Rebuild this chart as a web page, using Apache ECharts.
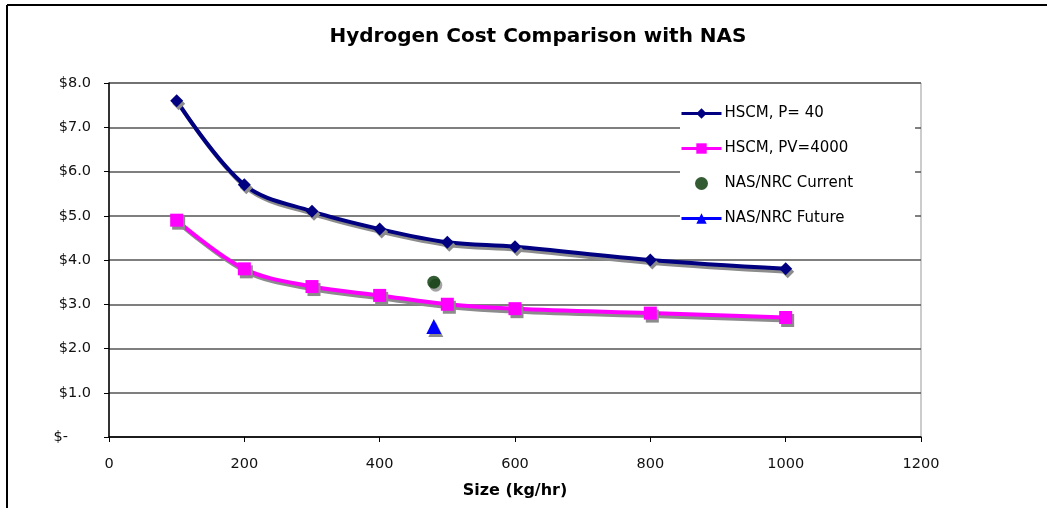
<!DOCTYPE html>
<html>
<head>
<meta charset="utf-8">
<script src="https://cdn.jsdelivr.net/npm/echarts@6/dist/echarts.min.js"></script>
<style>
  html, body { margin: 0; padding: 0; background: #fff; }
  #chart { width: 1047px; height: 508px; }
</style>
</head>
<body>
<div id="chart"></div>
<script>
// data
var sizes = [100, 200, 300, 400, 500, 600, 800, 1000];
var hscmP40 = [7.6, 5.7, 5.1, 4.7, 4.4, 4.3, 4.0, 3.8];
var hscmPV4000 = [4.9, 3.8, 3.4, 3.2, 3.0, 2.9, 2.8, 2.7];
var nasCurrent = [[480, 3.5]];
var nasFuture = [[480, 2.5]];
var seriesNames = ['HSCM, P= 40', 'HSCM, PV=4000', 'NAS/NRC Current', 'NAS/NRC Future'];

function pairs(xs, ys) {
  return xs.map(function (x, i) { return [x, ys[i]]; });
}

var font = 'DejaVu Sans, Verdana, sans-serif';
var shadow = { shadowColor: '#8c8c8c', shadowOffsetX: 2, shadowOffsetY: 3, shadowBlur: 0 };

var mychart = echarts.init(document.getElementById('chart'));
mychart.setOption({
  animation: false,
  textStyle: { fontFamily: font },
  title: {
    text: 'Hydrogen Cost Comparison with NAS',
    left: 533,
    textAlign: 'center',
    top: 22,
    textStyle: { fontFamily: font, fontSize: 20, fontWeight: 'bold', color: '#000' }
  },
  graphic: [
    { type: 'line', shape: { x1: 7, y1: 5, x2: 1047, y2: 5 }, style: { stroke: '#000', lineWidth: 2 } },
    { type: 'line', shape: { x1: 7, y1: 5, x2: 7, y2: 508 }, style: { stroke: '#000', lineWidth: 2 } }
  ],
  grid: {
    left: 109, right: 126, top: 83, bottom: 71,
    show: true, borderColor: '#999', borderWidth: 1
  },
  legend: {
    left: 680, top: 84,
    orient: 'vertical',
    itemWidth: 40, itemHeight: 13, itemGap: 20,
    padding: [22, 62, 22, 0],
    backgroundColor: '#fff',
    data: seriesNames,
    lineStyle: { width: 3 },
    textStyle: { fontFamily: font, fontSize: 15, color: '#000', padding: [0, 0, 0, -2] }
  },
  xAxis: {
    type: 'value',
    min: 0, max: 1200, interval: 200,
    name: 'Size (kg/hr)',
    nameLocation: 'middle',
    nameGap: 46,
    nameTextStyle: { fontFamily: font, fontSize: 16, fontWeight: 'bold', color: '#000' },
    axisLine: { show: true, lineStyle: { color: '#000', width: 1.5 } },
    axisTick: { show: true, length: 5, lineStyle: { color: '#000' } },
    axisLabel: {
      fontSize: 14.5, color: '#111', margin: 20,
      formatter: function (v) { return String(v); }
    },
    splitLine: { show: false }
  },
  yAxis: {
    type: 'value',
    min: 0, max: 8, interval: 1,
    axisLine: { show: true, lineStyle: { color: '#000', width: 1.5 } },
    axisTick: { show: true, length: 5, lineStyle: { color: '#000' } },
    axisLabel: {
      fontSize: 14.5, color: '#111', margin: 18,
      formatter: function (v) { return v === 0 ? '$-     ' : '$' + v.toFixed(1); }
    },
    splitLine: { show: true, lineStyle: { color: '#555', width: 1.5 } }
  },
  series: [
    {
      name: seriesNames[0],
      type: 'line',
      smooth: 0.35,
      data: pairs(sizes, hscmP40),
      symbol: 'diamond',
      symbolSize: 13,
      lineStyle: Object.assign({ color: '#000080', width: 4 }, shadow),
      itemStyle: Object.assign({ color: '#000080' }, shadow),
      z: 3
    },
    {
      name: seriesNames[1],
      type: 'line',
      smooth: 0.35,
      data: pairs(sizes, hscmPV4000),
      symbol: 'rect',
      symbolSize: 13,
      lineStyle: Object.assign({ color: '#ff00ff', width: 4 }, shadow),
      itemStyle: Object.assign({ color: '#ff00ff' }, shadow),
      z: 3
    },
    {
      name: seriesNames[2],
      type: 'scatter',
      data: nasCurrent,
      symbol: 'circle',
      symbolSize: 13,
      itemStyle: Object.assign({ color: '#003300' }, shadow),
      z: 3
    },
    {
      name: seriesNames[3],
      type: 'line',
      data: nasFuture,
      symbol: 'triangle',
      symbolSize: 15,
      lineStyle: { color: '#0000ff', width: 4 },
      itemStyle: Object.assign({ color: '#0000ff' }, shadow),
      z: 3
    }
  ]
});
</script>
</body>
</html>
